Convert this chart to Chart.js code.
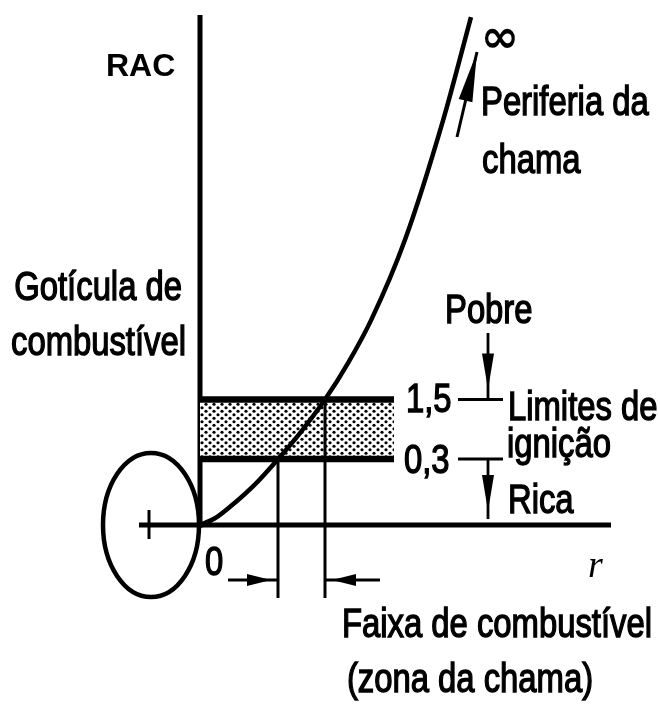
<!DOCTYPE html>
<html>
<head>
<meta charset="utf-8">
<script src="https://cdn.jsdelivr.net/npm/chart.js@4.4.1/dist/chart.umd.min.js"></script>
<style>
  html, body { margin: 0; padding: 0; background: #fff; }
</style>
</head>
<body>
<canvas id="rac" width="660" height="708"></canvas>
<script>
// perfil da RAC em torno da gotícula: raio r (unidades arbitrárias) x RAC
const raioCurva = [0, 0.15, 0.30, 0.55, 0.78, 1.00, 1.25, 1.48, 1.71, 2.05, 2.43, 2.71];
const racCurva = [0, 0.001, 0.012, 0.09, 0.3, 0.69, 1.5, 2.84, 5.1, 11.7, 28, 49.5];

// limites de ignição (rica / pobre) e seus rótulos
const limitesIgnicao = [0.3, 1.5];
const rotulosLimites = ["0,3", "1,5"];
// raio onde a curva corta cada limite
const raioLimites = [0.78, 1.25];
// até onde vai a faixa hachurada
const fimFaixa = 1.94;

const racMax = 50;
const raioGota = -0.49;
const eixoR = [-0.61, 4.11];

// escala de potência: o topo do eixo representa o "infinito"
const EXPOENTE = 0.4;
class PowerScale extends Chart.LinearScale {
  getPixelForValue(value) {
    const t = (value - this.min) / (this.max - this.min);
    return this.getPixelForDecimal(Math.sign(t) * Math.pow(Math.abs(t), EXPOENTE));
  }
  getValueForPixel(pixel) {
    const d = this.getDecimalForPixel(pixel);
    return this.min + Math.sign(d) * Math.pow(Math.abs(d), 1 / EXPOENTE) * (this.max - this.min);
  }
}
PowerScale.id = "power";
PowerScale.defaults = Chart.LinearScale.defaults;
Chart.register(PowerScale);

// padrão pontilhado da faixa de ignição
function pontilhado() {
  const c = document.createElement("canvas");
  c.width = 8;
  c.height = 7;
  const g = c.getContext("2d");
  g.fillStyle = "#fff";
  g.fillRect(0, 0, 8, 7);
  g.fillStyle = "#000";
  [[2, 1.75], [6, 5.25]].forEach(([x, y]) => {
    g.beginPath();
    g.arc(x, y, 1.6, 0, Math.PI * 2);
    g.fill();
  });
  return g.createPattern(c, "repeat");
}

function seta(ctx, x1, y1, x2, y2, tx, ty, comp, meia) {
  ctx.beginPath();
  ctx.moveTo(x1, y1);
  ctx.lineTo(x2, y2);
  ctx.stroke();
  const L = Math.hypot(x2 - x1, y2 - y1);
  const dx = (x2 - x1) / L, dy = (y2 - y1) / L;
  const bx = tx - dx * comp, by = ty - dy * comp;
  ctx.beginPath();
  ctx.moveTo(tx, ty);
  ctx.lineTo(bx - dy * meia, by + dx * meia);
  ctx.lineTo(bx + dy * meia, by - dx * meia);
  ctx.closePath();
  ctx.fill();
}

// texto estreito (Helvetica Narrow ~ Liberation Sans comprimida)
function texto(ctx, s, x, y, alinhar) {
  ctx.save();
  ctx.translate(x, y);
  ctx.scale(0.82, 1);
  ctx.font = "40px 'Liberation Sans', Arial, sans-serif";
  ctx.textAlign = alinhar || "left";
  ctx.textBaseline = "alphabetic";
  ctx.lineWidth = 1.4;
  ctx.strokeStyle = "#000";
  ctx.fillText(s, 0, 0);
  ctx.strokeText(s, 0, 0);
  ctx.restore();
}

const esquema = {
  id: "esquema",
  afterDatasetsDraw(chart) {
    const ctx = chart.ctx;
    const xs = chart.scales.x, ys = chart.scales.y;
    const y0 = ys.getPixelForValue(0);
    ctx.save();
    ctx.strokeStyle = "#000";
    ctx.fillStyle = "#000";
    ctx.lineCap = "butt";

    // gotícula
    const xg = xs.getPixelForValue(raioGota);
    ctx.lineWidth = 4.5;
    ctx.beginPath();
    ctx.ellipse(xg, y0, 48, 72, 0, 0, Math.PI * 2);
    ctx.stroke();
    ctx.lineWidth = 3;
    ctx.beginPath();
    ctx.moveTo(xg - 2, y0 - 15);
    ctx.lineTo(xg - 2, y0 + 14);
    ctx.stroke();

    // linhas de chamada da faixa de combustível
    ctx.lineWidth = 3;
    const xa = xs.getPixelForValue(raioLimites[0]);
    const xb = xs.getPixelForValue(raioLimites[1]);
    [0, 1].forEach(i => {
      const x = xs.getPixelForValue(raioLimites[i]);
      ctx.beginPath();
      ctx.moveTo(x, ys.getPixelForValue(limitesIgnicao[i]));
      ctx.lineTo(x, y0 + 73);
      ctx.stroke();
    });
    const ya = y0 + 55;
    ctx.lineWidth = 2.8;
    seta(ctx, xa - 50, ya, xa, ya, xa - 7, ya, 24, 6);
    seta(ctx, xb + 55, ya, xb, ya, xb + 7, ya, 24, 6);

    // marcas dos limites e setas rica / pobre
    const ypob = ys.getPixelForValue(limitesIgnicao[1]);
    const yric = ys.getPixelForValue(limitesIgnicao[0]);
    ctx.lineWidth = 3;
    [ypob, yric].forEach(y => {
      ctx.beginPath();
      ctx.moveTo(458, y);
      ctx.lineTo(503, y);
      ctx.stroke();
    });
    ctx.lineWidth = 2.8;
    seta(ctx, 488, 333, 488, ypob, 488, ypob - 10, 36, 6);
    seta(ctx, 488, yric, 488, y0 - 6, 488, y0 - 14, 36, 6);

    // periferia da chama
    ctx.lineWidth = 3;
    seta(ctx, 457, 137, 477, 52, 477, 52, 50, 7);

    // rótulos
    ctx.font = "bold 32px 'Liberation Sans', Arial, sans-serif";
    ctx.textAlign = "left";
    ctx.fillText("RAC", 106, 76);
    ctx.font = "bold 46px 'DejaVu Sans', sans-serif";
    ctx.textAlign = "center";
    ctx.textBaseline = "middle";
    ctx.fillText("∞", 500, 40);
    ctx.textBaseline = "alphabetic";

    texto(ctx, "Periferia da", 481, 115);
    texto(ctx, "chama", 482, 173);
    texto(ctx, "Gotícula de", 182, 300, "right");
    texto(ctx, "combustível", 186, 355, "right");
    texto(ctx, "Pobre", 445, 323);
    texto(ctx, rotulosLimites[1], 406, ypob + 12);
    texto(ctx, "Limites de", 508, 420);
    texto(ctx, "ignição", 507, 457);
    texto(ctx, rotulosLimites[0], 404, yric + 14);
    texto(ctx, "Rica", 508, 513);
    texto(ctx, "0", 205, 575);
    texto(ctx, "Faixa de combustível", 497, 637, "center");
    texto(ctx, "(zona da chama)", 470, 692, "center");

    ctx.font = "italic 38px 'Liberation Serif', serif";
    ctx.textAlign = "left";
    ctx.fillText("r", 588, 577);
    ctx.restore();
  }
};

const ctxRac = document.getElementById("rac").getContext("2d");
const linha = { borderColor: "#000", pointRadius: 0, clip: false, fill: false };

new Chart(ctxRac, {
  type: "line",
  data: {
    datasets: [
      {
        ...linha,
        label: "RAC",
        data: raioCurva.map((r, i) => ({ x: r, y: racCurva[i] })),
        borderWidth: 4.5,
        cubicInterpolationMode: "monotone"
      },
      {
        ...linha,
        label: "limite rico",
        data: [{ x: 0, y: limitesIgnicao[0] }, { x: fimFaixa, y: limitesIgnicao[0] }],
        borderWidth: 6.5
      },
      {
        ...linha,
        label: "limite pobre",
        data: [{ x: 0, y: limitesIgnicao[1] }, { x: fimFaixa, y: limitesIgnicao[1] }],
        borderWidth: 6.5,
        fill: "-1",
        backgroundColor: pontilhado()
      },
      {
        ...linha,
        label: "eixo RAC",
        data: [{ x: 0, y: -0.0001 }, { x: 0, y: racMax }],
        borderWidth: 5
      },
      {
        ...linha,
        label: "eixo r",
        data: [{ x: eixoR[0], y: 0 }, { x: eixoR[1], y: 0 }],
        borderWidth: 5
      }
    ]
  },
  options: {
    responsive: false,
    animation: false,
    events: [],
    layout: { padding: { top: 15, bottom: 183, left: 0, right: 0 } },
    scales: {
      x: { type: "linear", min: -2, max: 4.6, display: false },
      y: { type: "power", min: 0, max: racMax, display: false }
    },
    plugins: {
      legend: { display: false },
      tooltip: { enabled: false }
    }
  },
  plugins: [esquema]
});
</script>
</body>
</html>
